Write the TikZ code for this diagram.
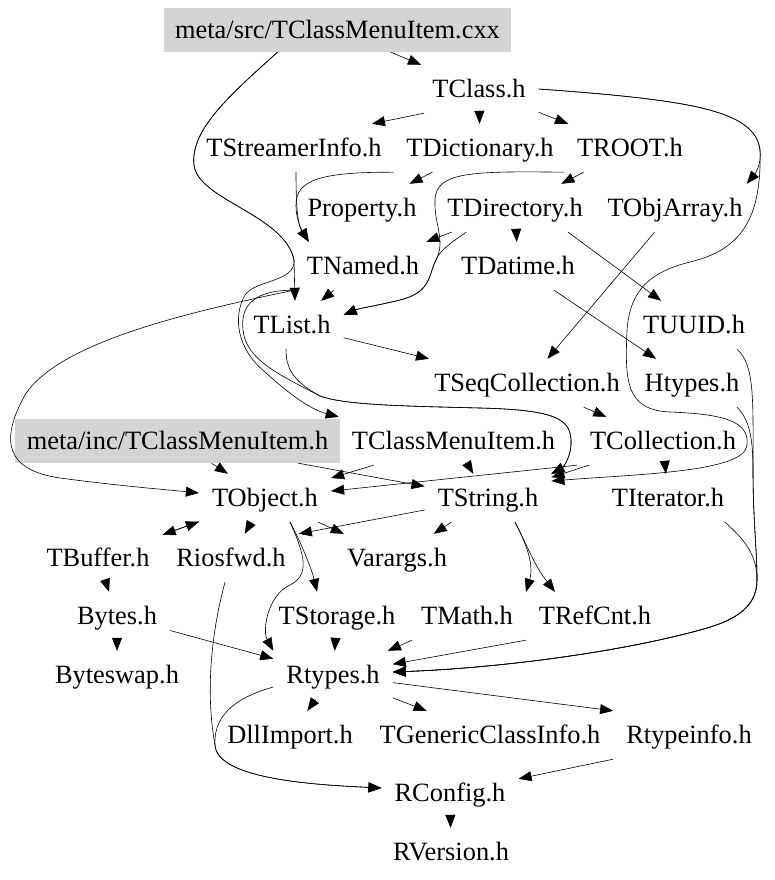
\documentclass[tikz,border=0pt]{standalone}
\usepackage{fontspec}
\setmainfont{Liberation Serif}
\usetikzlibrary{arrows.meta}
\tikzset{
	hdr/.style={inner xsep=13pt, inner ysep=0pt, minimum height=48pt, text height=17.5pt, text depth=0pt, font=\fontsize{26.4}{30}\selectfont},
	greybox/.style={hdr, fill=black!17, minimum height=44pt, inner xsep=11.5pt},
	inc/.style={-{Triangle[length=13pt, width=10pt]}, line width=0.6pt}
}

\begin{document}
\begin{tikzpicture}[x=1pt, y=-1pt]
		%%%%% START %%%%%
		\useasboundingbox (0, 0) rectangle (775, 880);
		
		\node[greybox] (srcItem) at (337.5, 30) {meta/src/TClassMenuItem.cxx};
		\node[hdr] (TClass) at (479, 89) {TClass.h};
		
		\node[hdr] (TStreamerInfo) at (294, 148) {TStreamerInfo.h};
		\node[hdr] (TDictionary) at (480, 148) {TDictionary.h};
		\node[hdr] (TROOT) at (630, 148) {TROOT.h};
		
		\node[hdr] (Property) at (362, 208) {Property.h};
		\node[hdr] (TDirectory) at (515, 208) {TDirectory.h};
		\node[hdr] (TObjArray) at (675, 208) {TObjArray.h};
		
		\node[hdr] (TNamed) at (363, 266) {TNamed.h};
		\node[hdr] (TDatime) at (518, 266) {TDatime.h};
		
		\node[hdr] (TList) at (292, 325) {TList.h};
		\node[hdr] (TUUID) at (694, 325) {TUUID.h};
		
		\node[hdr] (TSeqCollection) at (527, 383) {TSeqCollection.h};
		\node[hdr] (Htypes) at (692, 383) {Htypes.h};
		
		\node[greybox] (incItem) at (177.5, 441) {meta/inc/TClassMenuItem.h};
		\node[hdr] (TClassMenuItem) at (453.5, 441) {TClassMenuItem.h};
		\node[hdr] (TCollection) at (663, 441) {TCollection.h};
		
		\node[hdr] (TObject) at (265, 498) {TObject.h};
		\node[hdr] (TString) at (488, 498) {TString.h};
		\node[hdr] (TIterator) at (668, 498) {TIterator.h};
		
		\node[hdr] (TBuffer) at (98, 558) {TBuffer.h};
		\node[hdr] (Riosfwd) at (231, 558) {Riosfwd.h};
		\node[hdr] (Varargs) at (397, 558) {Varargs.h};
		
		\node[hdr] (Bytes) at (117, 616) {Bytes.h};
		\node[hdr] (TStorage) at (337, 616) {TStorage.h};
		\node[hdr] (TMath) at (467, 616) {TMath.h};
		\node[hdr] (TRefCnt) at (595, 616) {TRefCnt.h};
		
		\node[hdr] (Byteswap) at (117, 675) {Byteswap.h};
		\node[hdr] (Rtypes) at (333, 675) {Rtypes.h};
		
		\node[hdr] (DllImport) at (290, 735) {DllImport.h};
		\node[hdr] (TGenericClassInfo) at (490, 735) {TGenericClassInfo.h};
		\node[hdr] (Rtypeinfo) at (689, 735) {Rtypeinfo.h};
		
		\node[hdr] (RConfig) at (450, 793) {RConfig.h};
		\node[hdr] (RVersion) at (451, 852) {RVersion.h};
		
		% top part
		\draw[inc] (srcItem) -- (TClass);
		\draw[inc] ([xshift=-55pt]TClass.south) -- ([xshift=78pt]TStreamerInfo.north);
		\draw[inc] (TClass) -- (TDictionary);
		\draw[inc] (TClass) -- (TROOT);
		\draw[inc] (TClass.east) .. controls (690, 100) and (755, 110) .. (760, 150) .. controls (762, 165) and (754, 175) .. ([xshift=-9pt]TObjArray.north east);
		\draw[inc] (TClass.east) .. controls (690, 100) and (755, 110) .. (760, 150) .. controls (762, 220) and (740, 250) .. (690, 262) .. controls (650, 272) and (630, 290) .. (627, 330) .. controls (625, 380) and (625, 410) .. (670, 412) .. controls (720, 414) and (750, 420) .. (747, 445) .. controls (745, 472) and (640, 474) .. ([yshift=17pt]TString.east);
		
		\draw[inc] ([xshift=2pt]TStreamerInfo.south) .. controls (296, 210) and (298, 225) .. ([xshift=15pt]TNamed.north west);
		\draw[inc] (TDictionary.south west) .. controls (320, 172) and (296, 180) .. (296, 205) .. controls (296, 222) and (303, 232) .. ([xshift=15pt]TNamed.north west);
		\draw[inc] (TDictionary) -- (Property);
		\draw[inc] (TROOT) -- (TDirectory);
		\draw[inc] (TROOT.south west) .. controls (470, 171) and (436, 172) .. (435, 200) .. controls (434, 225) and (446, 240) .. (436, 260) .. controls (428, 275) and (432, 292) .. (400, 300) .. controls (380, 305) and (360, 308) .. ([yshift=10pt]TList.east);
		
		\draw[inc] (TDirectory) -- (TNamed);
		\draw[inc] ([xshift=32pt]TDirectory.south west) .. controls (452, 242) and (440, 250) .. (436, 260) .. controls (428, 275) and (432, 292) .. (400, 300) .. controls (380, 305) and (360, 308) .. ([yshift=10pt]TList.east);
		\draw[inc] (TDirectory) -- (TDatime);
		\draw[inc] ([xshift=53pt]TDirectory.south) -- (TUUID);
		\draw[inc] (TObjArray) -- (TSeqCollection);
		\draw[inc] (TDatime) -- (Htypes);
		
		% long ones on the left
		\draw[inc] ([xshift=-60pt]srcItem.south) .. controls (230, 95) and (190, 130) .. (194, 165) .. controls (198, 200) and (285, 215) .. (294, 260) -- ([xshift=3pt]TList.north);
		\draw[inc] ([xshift=-60pt]srcItem.south) .. controls (230, 95) and (190, 130) .. (194, 165) .. controls (198, 200) and (285, 215) .. (294, 260) .. controls (296, 282) and (255, 280) .. (245, 295) .. controls (232, 318) and (238, 350) .. (265, 372) .. controls (290, 395) and (312, 410) .. (TClassMenuItem.north west);
		\draw[inc] (TNamed) -- (TList);
		\draw[inc] (TNamed.south west) .. controls (200, 310) and (60, 340) .. (25, 395) .. controls (0, 440) and (5, 470) .. (60, 478) .. controls (120, 486) and (170, 490) .. ([yshift=5pt]TObject.west);
		\draw[inc] (TNamed.south west) .. controls (255, 290) and (240, 305) .. (243, 330) .. controls (246, 360) and (280, 375) .. (320, 396) .. controls (345, 405) and (400, 406) .. (480, 408) .. controls (560, 410) and (572, 420) .. (571, 445) .. controls (570, 460) and (562, 468) .. (TString.north east);
		\draw[inc] ([xshift=-6pt]TList.south) .. controls (286, 365) and (290, 380) .. (320, 396) .. controls (345, 405) and (400, 406) .. (480, 408) .. controls (560, 410) and (572, 420) .. (571, 445) .. controls (570, 460) and (562, 468) .. (TString.north east);
		\draw[inc] (TList) -- (TSeqCollection);
		
		% right side down to Rtypes.h
		\draw[inc] ([xshift=43pt]TUUID.south) .. controls (755, 365) and (753, 400) .. (753, 470) .. controls (753, 520) and (757, 550) .. (757, 580) .. controls (757, 610) and (730, 622) .. (700, 630) .. controls (620, 652) and (500, 668) .. ([yshift=3pt]Rtypes.east);
		\draw[inc] ([xshift=45pt]Htypes.south) .. controls (750, 420) and (753, 440) .. (753, 470) .. controls (753, 520) and (757, 550) .. (757, 580) .. controls (757, 610) and (730, 622) .. (700, 630) .. controls (620, 652) and (500, 668) .. ([yshift=3pt]Rtypes.east);
		\draw[inc] ([xshift=57pt]TIterator.south) .. controls (745, 540) and (757, 555) .. (757, 580) .. controls (757, 610) and (730, 622) .. (700, 630) .. controls (620, 652) and (500, 668) .. ([yshift=3pt]Rtypes.east);
		
		\draw[inc] (TSeqCollection) -- (TCollection);
		\draw[inc] (incItem) -- (TObject);
		\draw[inc] (incItem) -- (TString);
		\draw[inc] (TClassMenuItem) -- (TObject);
		\draw[inc] (TClassMenuItem) -- (TString);
		\draw[inc] (TCollection.south west) -- (TObject);
		\draw[inc] (TCollection) -- (TString);
		\draw[inc] (TCollection) -- (TIterator);
		
		% lower part
		\draw[inc] (TObject) -- (TBuffer);
		\draw[inc] (TBuffer) -- (TObject);
		\draw[inc] (TObject) -- (Riosfwd);
		\draw[inc] (TObject) -- (Varargs);
		\draw[inc] ([xshift=25pt]TObject.south) .. controls (300, 540) and (312, 570) .. ([xshift=-20pt]TStorage.north);
		\draw[inc] ([xshift=25pt]TObject.south) .. controls (305, 555) and (310, 575) .. (290, 585) .. controls (268, 595) and (262, 630) .. (Rtypes.north west);
		\draw[inc] (TString) -- (Riosfwd.north east);
		\draw[inc] (TString) -- (Varargs);
		\draw[inc] ([xshift=27pt]TString.south) .. controls (527, 545) and (534, 565) .. (TMath.north east);
		\draw[inc] ([xshift=27pt]TString.south) .. controls (527, 545) and (534, 565) .. ([xshift=-40pt]TRefCnt.north);
		
		\draw[inc] (TBuffer) -- (Bytes);
		\draw[inc] (Bytes) -- (Byteswap);
		\draw[inc] (Bytes) -- (Rtypes);
		\draw[inc] (TStorage) -- (Rtypes);
		\draw[inc] (TMath) -- (Rtypes);
		\draw[inc] (TRefCnt.south west) -- (Rtypes);
		
		\draw[inc] (Rtypes) -- (DllImport);
		\draw[inc] (Rtypes) -- (TGenericClassInfo);
		\draw[inc] (Rtypes) -- (Rtypeinfo.north west);
		\draw[inc] ([yshift=-12pt]Rtypes.west) .. controls (245, 695) and (213, 710) .. (215, 745) .. controls (217, 780) and (320, 785) .. ([yshift=5pt]RConfig.west);
		\draw[inc] ([xshift=-6pt]Riosfwd.south) .. controls (212, 630) and (205, 690) .. (215, 745) .. controls (217, 780) and (320, 785) .. ([yshift=5pt]RConfig.west);
		\draw[inc] (Rtypeinfo.south west) -- (RConfig);
		\draw[inc] (RConfig) -- (RVersion);
		
		%%%%% END %%%%%
	\end{tikzpicture}
\end{document}
